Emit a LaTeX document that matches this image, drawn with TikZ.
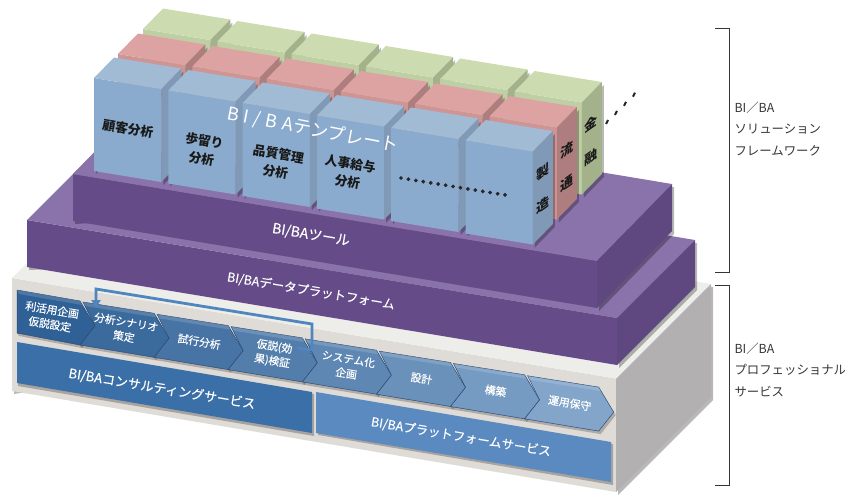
\documentclass[tikz,border=0pt]{standalone}
\usepackage{fontspec}
\setmainfont{Noto Sans CJK JP}
\newfontfamily\medfont[FakeBold=0.35]{Noto Sans CJK JP}
\usepackage{xcolor}
\usetikzlibrary{arrows.meta}
\definecolor{slabfront}{HTML}{654B88}
\definecolor{slabtop}{HTML}{8A72AB}
\definecolor{slabside}{HTML}{5F4880}
\definecolor{basefront}{HTML}{DFDBD6}
\definecolor{basetop}{HTML}{EDEDEA}
\definecolor{baseside}{HTML}{B3B0B1}
\definecolor{bluefront}{HTML}{8AABCE}
\definecolor{bluetop}{HTML}{A1BBD5}
\definecolor{blueside}{HTML}{7F99B6}
\definecolor{redfront}{HTML}{CF9595}
\definecolor{redtop}{HTML}{DDA3A3}
\definecolor{redside}{HTML}{AE7E7E}
\definecolor{greenfront}{HTML}{BFCFA4}
\definecolor{greentop}{HTML}{CDDBB0}
\definecolor{greenside}{HTML}{A4B28B}
\definecolor{chevdark}{HTML}{2F6096}
\definecolor{chevlight}{HTML}{82A5C9}
\definecolor{chevedge}{HTML}{2B4A72}
\definecolor{consultbar}{HTML}{3B6FA7}
\definecolor{platformbar}{HTML}{5A8AC0}
\definecolor{looparrow}{HTML}{4F86BE}
\definecolor{inkgray}{HTML}{3A3533}
\tikzset{
    barlabel/.style={text=white,rotate=-9.5,font=\medfont\fontsize{12.5}{14}\selectfont},
    chevlabel/.style={text=white,rotate=-9.5,align=center,font=\medfont\fontsize{10.8}{14.5}\selectfont},
    blocklabel/.style={text=black!90,rotate=-9.5,align=center,font=\fontsize{12.8}{18}\selectfont\bfseries},
    sidelabel/.style={text=black!90,yslant=0.7,align=center,font=\fontsize{13}{33}\selectfont\bfseries},
    framelabel/.style={text=inkgray,anchor=west,align=left,font=\fontsize{12.4}{21.5}\selectfont},
    brace/.style={draw=inkgray,line width=0.9pt}
}
\newcommand{\cuboid}[8]{%
\begin{scope}[shift={(#2,#3)}]
\fill[black,opacity=0.28] (2,3) -- (#4+2,#5+3) -- ({#4+2},{#5+#6+3}) -- ({#4+#7+2},{#5+#6+#8+3}) -- ({#4+#7+2},{#5+#8+3}) -- (2,{#6+3}) -- cycle;
\fill[#1front] (0,0) -- (#4,#5) -- (#4,{#5+#6}) -- (0,#6) -- cycle;
\fill[#1top] (0,0) -- (#4,#5) -- ({#4+#7},{#5+#8}) -- (#7,#8) -- cycle;
\fill[#1side] (#4,#5) -- ({#4+#7},{#5+#8}) -- ({#4+#7},{#5+#6+#8}) -- (#4,{#5+#6}) -- cycle;
\end{scope}}
\begin{document}
\begin{tikzpicture}[x=1pt,y=-1pt]
\useasboundingbox (0,0) rectangle (866,496);

\cuboid{base}{12}{278}{604}{101}{113}{95}{-95}
\cuboid{slab}{27}{220}{590}{98}{47}{78}{-78}
\cuboid{slab}{73}{174}{524}{87}{47}{75}{-77}

\foreach \k in {0,...,5} {
    \cuboid{green}{143+74.3*\k}{29+12.5*\k}{67.3}{11}{92}{20}{-20.5}
}
\foreach \k in {0,...,5} {
    \cuboid{red}{118+74.3*\k}{54+12.5*\k}{67.3}{11}{92}{20}{-20.5}
}
\foreach \k in {0,...,5} {
    \cuboid{blue}{94+74.3*\k}{78+12.5*\k}{67.3}{11}{93}{20}{-20.5}
}

\fill[black,opacity=0.25] (18,344) -- (314,394) -- (314,436) -- (18,386) -- cycle;
\fill[consultbar] (17,342) -- (312,392) -- (312,433) -- (17,383) -- cycle;
\fill[black,opacity=0.25] (318,394) -- (613,444) -- (613,485) -- (318,435) -- cycle;
\fill[platformbar] (316,392) -- (611,442) -- (611,482) -- (316,433) -- cycle;

\foreach \k in {0,...,7} {
    \pgfmathsetmacro\tipx{95+74.1*\k}
    \pgfmathsetmacro\tipy{326+12.3*\k}
    \pgfmathsetmacro\tint{\k*100/7}
    \pgfmathsetmacro\notx{\tipx-74.1}
    \pgfmathsetmacro\noty{\tipy-12.3}
    \coordinate (tip) at (\tipx,\tipy);
    \coordinate (notch) at (\notx,\noty);
    \ifnum\k=0
        \coordinate (tl) at (17,290);
        \coordinate (bl) at (17,333);
        \coordinate (notch) at (17,311);
    \else
        \coordinate (tl) at ([shift={(-12,-24)}]notch);
        \coordinate (bl) at ([shift={(-15,19)}]notch);
    \fi
    \coordinate (tr) at ([shift={(-15,-25)}]tip);
    \coordinate (br) at ([shift={(-15,19)}]tip);
    \fill[black,opacity=0.22] ([shift={(2,3)}]bl) -- ([shift={(2,3)}]br) -- ([shift={(2,3)}]tip) -- (tip) -- (br) -- (bl) -- cycle;
    \filldraw[draw=chevedge,line width=0.5pt,fill=chevlight!\tint!chevdark] (tl) -- (tr) -- (tip) -- (br) -- (bl) -- (notch) -- cycle;
    \fill[white,opacity=0.15] (tl) -- (tr) -- ([shift={(2,4)}]tr) -- ([shift={(2,4)}]tl) -- cycle;
    \coordinate (chev\k) at ([shift={(-44,-9)}]tip);
}

\coordinate (looptail) at (297,348);
\coordinate (loopa) at (312,350);
\coordinate (loopb) at (312,324);
\coordinate (loopc) at (96,289);
\coordinate (loophead) at (96,308);
\draw[looparrow,line width=2.8pt,-{Triangle[width=9pt,length=8pt]}] (looptail) -- (loopa) -- (loopb) -- (loopc) -- (loophead);

\foreach \k in {0,...,14} {
    \filldraw[black!85] (401+7.43*\k,178+1.21*\k) circle (1.7pt);
}
\foreach \k in {0,...,3} {
    \draw[black!85,line width=2pt] (606+9*\k,124-9.1*\k) -- (608+9*\k,120-9.1*\k);
}

\node[text=white,rotate=-11,font=\fontsize{18}{20}\selectfont] (tmpl) at (313,130) {{\addfontfeature{LetterSpace=28}BI/BA}テンプレート};
\node[barlabel,font=\medfont\fontsize{14}{16}\selectfont] (tool) at (311,235) {BI/BAツール};
\node[barlabel] (dataplat) at (311,291) {BI/BAデータプラットフォーム};
\node[barlabel,font=\medfont\fontsize{13}{15}\selectfont] (consult) at (162,389) {BI/BAコンサルティングサービス};
\node[barlabel] (platform) at (461,437) {BI/BAプラットフォームサービス};

\node[blocklabel] (custom) at (128,129) {顧客分析};
\node[blocklabel] (yield) at (203,150) {歩留り\\分析};
\node[blocklabel] (quality) at (277,163) {品質管理\\分析};
\node[blocklabel] (payroll) at (349,173) {人事給与\\分析};

\node[sidelabel] (maker) at (543,188) {製\\造};
\node[sidelabel] (retail) at (567,166) {流\\通};
\node[sidelabel] (finance) at (591,140) {金\\融};

\node[chevlabel] (plan) at (chev0) {利活用企画\\仮説設定};
\node[chevlabel] (scenario) at (chev1) {分析シナリオ\\策定};
\node[chevlabel] (trial) at (chev2) {試行分析};
\node[chevlabel] (verify) at (chev3) {仮説(効\\果)検証};
\node[chevlabel] (sysplan) at (chev4) {システム化\\企画};
\node[chevlabel] (design) at (chev5) {設計};
\node[chevlabel] (build) at (chev6) {構築};
\node[chevlabel] (operate) at (chev7) {運用保守};

\coordinate (uppera) at (715,28);
\coordinate (upperb) at (729.5,28);
\coordinate (upperc) at (729.5,272);
\coordinate (upperd) at (715,272);
\draw[brace] (uppera) -- (upperb) -- (upperc) -- (upperd);
\coordinate (lowera) at (715,285);
\coordinate (lowerb) at (729.5,285);
\coordinate (lowerc) at (729.5,485);
\coordinate (lowerd) at (715,485);
\draw[brace] (lowera) -- (lowerb) -- (lowerc) -- (lowerd);

\node[framelabel] (solution) at (731,129) {BI／BA\\ソリューション\\フレームワーク};
\node[framelabel] (service) at (731,370) {BI／BA\\プロフェッショナル\\サービス};
\end{tikzpicture}
\end{document}
